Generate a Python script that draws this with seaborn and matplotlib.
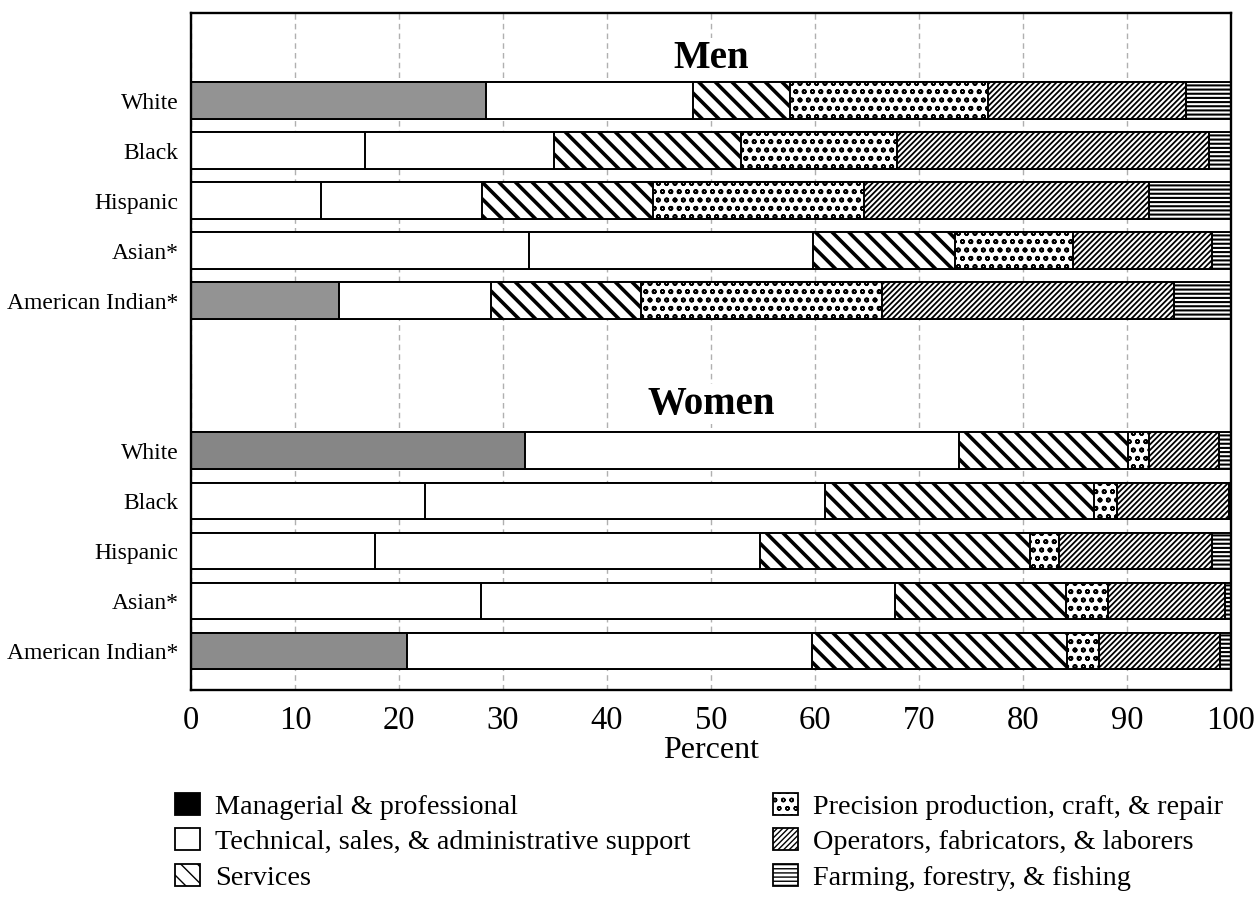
import numpy as np
import pandas as pd
import matplotlib
matplotlib.use("Agg")
import matplotlib.pyplot as plt
from matplotlib.patches import Patch
import seaborn as sns

# ---------------- data ----------------
groups = ["Men", "Women"]
races = ["White", "Black", "Hispanic", "Asian*", "American Indian*"]
occupations = [
    "Managerial & professional",
    "Technical, sales, & administrative support",
    "Services",
    "Precision production, craft, & repair",
    "Operators, fabricators, & laborers",
    "Farming, forestry, & fishing",
]
# percent shares, rows = races, columns = occupations
men_shares = [
    [28.4, 19.9, 9.3, 19.0, 19.1, 4.3],
    [16.7, 18.2, 18.0, 15.0, 30.0, 2.1],
    [12.5, 15.5, 16.4, 20.3, 27.4, 7.9],
    [32.5, 27.3, 13.7, 11.3, 13.4, 1.8],
    [14.2, 14.6, 14.5, 23.1, 28.1, 5.5],
]
women_shares = [
    [32.1, 41.7, 16.3, 2.0, 6.7, 1.2],
    [22.5, 38.5, 25.8, 2.2, 10.8, 0.2],
    [17.7, 37.0, 26.0, 2.8, 14.7, 1.8],
    [27.9, 39.8, 16.4, 4.1, 11.2, 0.6],
    [20.8, 38.9, 24.5, 3.1, 11.6, 1.1],
]
x_ticks = [0, 10, 20, 30, 40, 50, 60, 70, 80, 90, 100]

# ---------------- styles ----------------
sns.set_theme(style="white")
plt.rcParams["font.family"] = ["Liberation Serif", "DejaVu Serif"]
for key in ["text.color", "axes.labelcolor", "xtick.color", "ytick.color",
            "xtick.labelcolor", "ytick.labelcolor"]:
    plt.rcParams[key] = "black"

# scanned shading of managerial segment per bar (as it appears in the print)
manag_shade_men = ["#939393", "white", "white", "white", "#939393"]
manag_shade_women = ["#868686", "white", "white", "white", "#8c8c8c"]
layer_hatch = [None, None, "\\\\", "oo", "//////", "----"]
layer_hlw = [1.0, 1.0, 2.6, 1.2, 1.3, 1.5]
legend_face = ["black", "white", "white", "white", "white", "white"]

# ---------------- build long table ----------------
slots = []
for g in groups:
    slots.append(f"{g}__title")
    for r in races:
        slots.append(f"{g}|{r}")
    if g != groups[-1]:
        slots.append("gap")
slot_labels = ["" if ("__" in s or s == "gap") else s.split("|")[1] for s in slots]

rows = []
for g, shares, shades in [("Men", men_shares, manag_shade_men),
                          ("Women", women_shares, manag_shade_women)]:
    for r, vals, sh in zip(races, shares, shades):
        cum = np.cumsum(vals)
        for k, occ in enumerate(occupations):
            rows.append(dict(slot=f"{g}|{r}", occ=k, cum=cum[k], shade=sh))
df = pd.DataFrame(rows)

W, H = 1256, 905
fig = plt.figure(figsize=(W / 100, H / 100), dpi=100)
ax = fig.add_axes([191 / W, 1 - 690 / H, (1231 - 191) / W, (690 - 13) / H])

ax.grid(axis="x", color="#b0b0b0", linestyle=(0, (4, 3)), linewidth=1.0)
ax.set_axisbelow(True)

# draw layers from the outermost (cumulative 100) inward
for k in range(len(occupations) - 1, -1, -1):
    sub = df[df["occ"] == k]
    before = len(ax.patches)
    if k == 0:
        pal = {s: s for s in sub["shade"].unique()}
        sns.barplot(data=sub, x="cum", y="slot", order=slots, orient="h",
                    hue="shade", palette=pal, dodge=False, legend=False,
                    width=0.74, edgecolor="black", linewidth=1.4,
                    errorbar=None, ax=ax, saturation=1)
    else:
        sns.barplot(data=sub, x="cum", y="slot", order=slots, orient="h",
                    color="white", width=0.74, edgecolor="black", linewidth=1.4,
                    hatch=layer_hatch[k], errorbar=None, ax=ax, saturation=1)
    for p in ax.patches[before:]:
        if hasattr(p, "set_hatch_linewidth"):
            p.set_hatch_linewidth(layer_hlw[k])

n = len(slots)
ax.set_ylim(n - 1 + 0.78, -0.76)
ax.set_xlim(0, 100)
ax.set_yticks(range(n))
ax.set_yticklabels(slot_labels, fontsize=17)
ax.set_xticks(x_ticks)
ax.set_xticklabels([str(t) for t in x_ticks], fontsize=23.5)
ax.tick_params(axis="both", length=0)
ax.tick_params(axis="y", pad=9)
ax.tick_params(axis="x", pad=11)
ax.set_ylabel("")
ax.set_xlabel("Percent", fontsize=23, labelpad=0)
for sp in ax.spines.values():
    sp.set_visible(True)
    sp.set_color("black")
    sp.set_linewidth(1.7)

title_shift = {"Men": 0.14, "Women": 0.06}
for g in groups:
    ax.text(50, slots.index(f"{g}__title") + title_shift[g], g, ha="center", va="center",
            fontsize=28, fontweight="bold",
            bbox=dict(facecolor="white", edgecolor="none", pad=1))

# ---------------- legends ----------------
handles = []
for k, occ in enumerate(occupations):
    h = Patch(facecolor=legend_face[k], edgecolor="black", linewidth=1.3,
              hatch=layer_hatch[k], label=occ)
    handles.append(h)

fs = 20.3
leg_kw = dict(frameon=False, fontsize=fs, handlelength=0.88, handleheight=0.82,
              handletextpad=0.55, labelspacing=0.31, borderaxespad=0, borderpad=0)
leg1 = fig.legend(handles=handles[:3], loc="upper left",
                  bbox_to_anchor=(175 / W, 1 - 793 / H), **leg_kw)
leg2 = fig.legend(handles=handles[3:], loc="upper left",
                  bbox_to_anchor=(773 / W, 1 - 793 / H), **leg_kw)

fig.savefig("out.png", dpi=100)
